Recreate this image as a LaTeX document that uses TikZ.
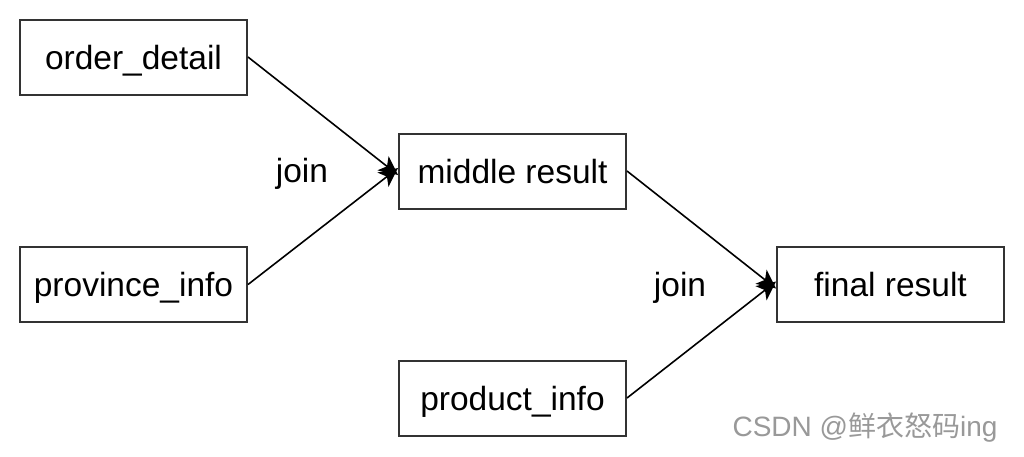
\documentclass[tikz,border=0pt]{standalone}
\usepackage{fontspec}
\setmainfont{Liberation Sans}
\newfontfamily\cjk{Noto Sans CJK SC}
\usetikzlibrary{arrows.meta}
\begin{document}
\begin{tikzpicture}[x=1pt,y=-1pt,
  box/.style={draw=black!80,line width=2pt,minimum width=227pt,minimum height=75pt,inner sep=0pt,text height=28pt,text depth=4pt,font=\fontsize{33.5}{38}\selectfont},
  lbl/.style={font=\fontsize{33.5}{38}\selectfont,inner sep=0pt,text height=28pt,text depth=4pt},
  conn/.style={line width=1.6pt,-{Stealth[length=19pt,width=18pt,inset=5pt]}}]
\useasboundingbox (0,0) rectangle (1024,456);
\fill[white] (0,0) rectangle (1024,456);
\node[box] (od) at (133.5,57) {order\_detail};
\node[box] (pi) at (133.5,284.5) {province\_info};
\node[box] (mr) at (512.5,171) {middle result};
\node[box] (fr) at (890.5,284.5) {final result};
\node[box] (pr) at (512.5,398) {product\_info};
\node[lbl] (j1) at (302,170) {join};
\node[lbl] (j2) at (680,284) {join};
\draw[conn] (od.east) -- ([yshift=-4pt]mr.west);
\draw[conn] (pi.east) -- ([yshift=3pt]mr.west);
\draw[conn] (mr.east) -- ([yshift=-4pt]fr.west);
\draw[conn] (pr.east) -- ([yshift=3pt]fr.west);
\node[text=black!40,font=\fontsize{28}{33}\selectfont,inner sep=0pt] (wm) at (865,428) {CSDN @{\cjk 鲜衣怒码}ing};
\end{tikzpicture}
\end{document}
